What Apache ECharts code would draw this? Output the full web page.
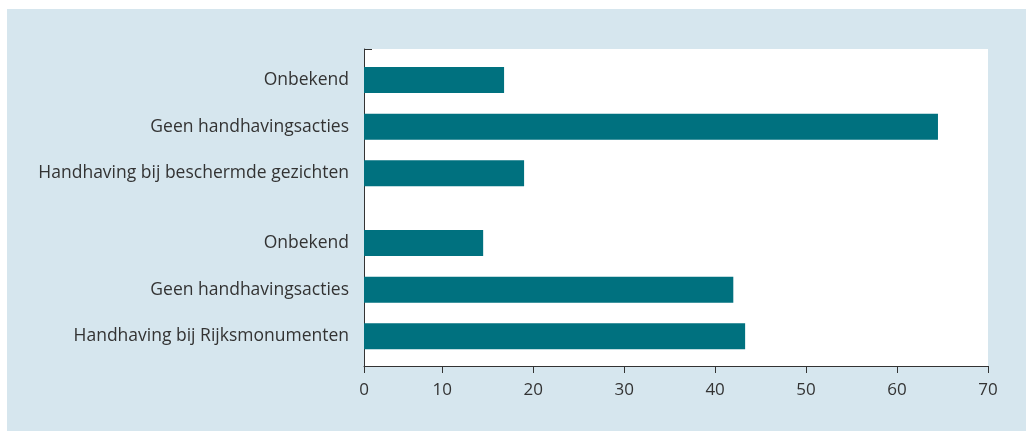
<!DOCTYPE html>
<html>
<head>
<meta charset="utf-8">
<script src="https://cdn.jsdelivr.net/npm/echarts@6/dist/echarts.min.js"></script>
<style>
  html, body { margin: 0; padding: 0; background: #fff; }
  #chart { position: absolute; left: 7px; top: 9px; width: 1019px; height: 422px; background: #d6e6ee; }
</style>
</head>
<body>
<div id="chart"></div>
<script>
// beschermde gezichten
const labelsA = ['Onbekend', 'Geen handhavingsacties', 'Handhaving bij beschermde gezichten'];
const valuesA = [16.8, 64.5, 19.0];
// rijksmonumenten
const labelsB = ['Onbekend', 'Geen handhavingsacties', 'Handhaving bij Rijksmonumenten'];
const valuesB = [14.5, 42.0, 43.3];

// the reference puts its "0" at the axis start, which sits a bit past zero
const xStart = 1.4;
const xEnd = 70;

const textColor = '#333';
const barColor = '#00717f';
const font = 'Open Sans';

var chart = echarts.init(document.getElementById('chart'));

const hiddenX = (i) => ({
  type: 'value', gridIndex: i, min: xStart, max: xEnd, splitNumber: 7,
  show: false
});

const barAxis = (i, labels) => ({
  type: 'category', gridIndex: i, data: labels, inverse: true,
  axisLine: { show: false },
  axisTick: { show: false },
  axisLabel: { color: textColor, fontSize: 17.5, fontFamily: font, margin: 15 }
});

var option = {
  animation: false,
  grid: [
    { left: 357, right: 38, top: 40, bottom: 65, show: true, backgroundColor: '#fff', borderWidth: 0 },
    { left: 357, right: 38, top: 47.7, height: 140 },
    { left: 357, right: 38, top: 210.7, height: 140 }
  ],
  xAxis: [
    {
      type: 'value', gridIndex: 0, min: xStart, max: xEnd, splitNumber: 7,
      axisLine: { show: true, lineStyle: { color: textColor, width: 1 } },
      axisTick: { show: true, length: 7, lineStyle: { color: textColor } },
      splitLine: { show: false },
      axisLabel: {
        color: textColor, fontSize: 17, fontFamily: font, margin: 16,
        formatter: v => (v === xStart ? '0' : String(v))
      }
    },
    hiddenX(1),
    hiddenX(2)
  ],
  yAxis: [
    {
      type: 'value', gridIndex: 0, min: 0, max: 1, interval: 1,
      axisLine: { show: true, lineStyle: { color: textColor, width: 1 } },
      axisTick: { show: true, inside: true, length: 8, lineStyle: { color: textColor } },
      axisLabel: { show: false },
      splitLine: { show: false }
    },
    barAxis(1, labelsA),
    barAxis(2, labelsB)
  ],
  series: [
    { type: 'bar', xAxisIndex: 1, yAxisIndex: 1, data: valuesA, barWidth: 26, itemStyle: { color: barColor } },
    { type: 'bar', xAxisIndex: 2, yAxisIndex: 2, data: valuesB, barWidth: 26, itemStyle: { color: barColor } }
  ]
};

chart.setOption(option);
</script>
</body>
</html>
